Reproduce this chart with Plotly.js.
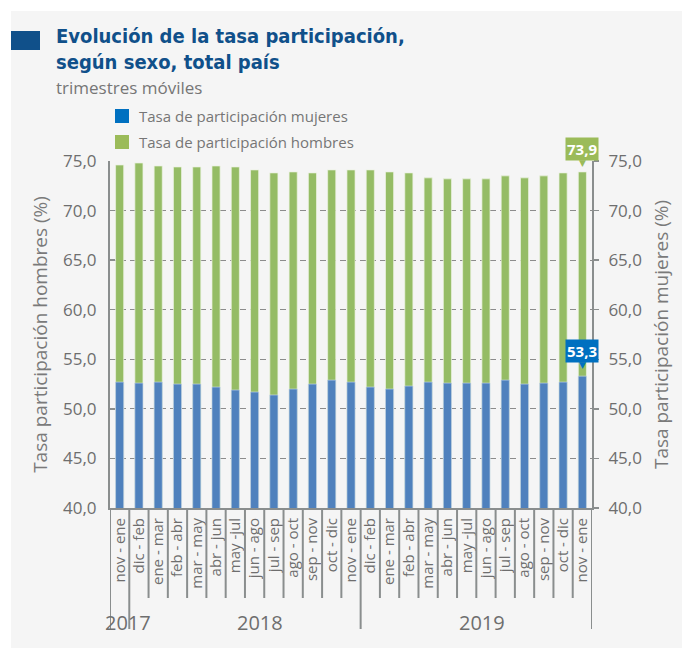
<!DOCTYPE html>
<html>
<head>
<meta charset="utf-8">
<script src="https://cdn.plot.ly/plotly-3.0.1.min.js"></script>
<style>
  html, body { margin: 0; padding: 0; background: #ffffff; }
  #chart { position: absolute; left: 11px; top: 11px; width: 671px; height: 637px; }
</style>
</head>
<body>
<div id="chart"></div>
<script>
// ---- data ----
const categories = ['nov - ene','dic - feb','ene - mar','feb - abr','mar - may','abr - jun','may -jul','jun - ago','jul - sep','ago - oct','sep - nov','oct - dic','nov - ene','dic - feb','ene - mar','feb - abr','mar - may','abr - jun','may -jul','jun - ago','jul - sep','ago - oct','sep - nov','oct - dic','nov - ene'];
const hombres = [74.6,74.8,74.5,74.4,74.4,74.5,74.4,74.1,73.8,73.9,73.8,74.1,74.1,74.1,73.9,73.8,73.3,73.2,73.2,73.2,73.5,73.3,73.5,73.8,73.9];
const mujeres = [52.7,52.6,52.7,52.5,52.5,52.2,51.9,51.7,51.4,52.0,52.5,52.9,52.7,52.2,52.0,52.3,52.7,52.6,52.6,52.6,52.9,52.5,52.6,52.7,53.3];
const years = ['2017','2018','2019'];
const yearSizes = [1, 12, 12];
const seriesNames = ['Tasa de participación mujeres', 'Tasa de participación hombres'];
const titleLines = ['Evolución de la tasa participación,', 'según sexo, total país'];
const subtitle = 'trimestres móviles';
const yTitleLeft = 'Tasa participación hombres (%)';
const yTitleRight = 'Tasa participación mujeres (%)';

// ---- helpers (image pixel -> paper coords) ----
const PL = 110, PR = 592, PT = 161, PB = 508;
const fx = x => (x - PL) / (PR - PL);
const fy = y => (PB - y) / (PB - PT);
const fmt = v => v.toFixed(1).replace('.', ',');

const idx = categories.map((_, i) => i);
const n = categories.length;
const GRAY = '#6e6e6e';
const LINE = '#8a8e8e';
const FONT = 'Open Sans, sans-serif';
const TFONT = 'Liberation Sans Narrow, DejaVu Sans Condensed, Arial Narrow, sans-serif';

const traces = [
  { type: 'bar', name: seriesNames[1], x: idx, y: hombres, yaxis: 'y', width: 0.42,
    marker: { color: '#95bc65', line: { color: 'rgba(235,242,225,0.9)', width: 0.8 } },
    showlegend: false, hoverinfo: 'y' },
  { type: 'bar', name: seriesNames[0], x: idx, y: mujeres, yaxis: 'y2', width: 0.42,
    marker: { color: '#4f81bd', line: { color: 'rgba(200,215,235,0.8)', width: 0.8 } },
    showlegend: false, hoverinfo: 'y' }
];

const shapes = [];
// title marker rectangle
shapes.push({ type: 'rect', xref: 'paper', yref: 'paper', x0: fx(11), x1: fx(40), y0: fy(50), y1: fy(31),
  fillcolor: '#10508a', line: { width: 0 } });
// legend squares
shapes.push({ type: 'rect', xref: 'paper', yref: 'paper', x0: fx(115), x1: fx(129), y0: fy(123), y1: fy(109),
  fillcolor: '#0070c0', line: { width: 0 } });
shapes.push({ type: 'rect', xref: 'paper', yref: 'paper', x0: fx(115), x1: fx(129), y0: fy(149), y1: fy(135),
  fillcolor: '#9bbb59', line: { width: 0 } });

// category separators + year separators
const yearBounds = [0];
yearSizes.forEach(s => yearBounds.push(yearBounds[yearBounds.length - 1] + s));
for (let i = 0; i <= n; i++) {
  const isYear = yearBounds.includes(i);
  shapes.push({ type: 'line', xref: 'x', yref: 'paper', x0: i - 0.5, x1: i - 0.5,
    y0: 0, y1: isYear ? fy(629) : fy(598), line: { color: LINE, width: 2 } });
}

const annotations = [];
annotations.push({ xref: 'paper', yref: 'paper', x: fx(55), y: fy(49), xanchor: 'left', yanchor: 'middle',
  align: 'left', borderpad: 0, text: '<b>' + titleLines[0] + '</b><br><b>' + titleLines[1] + '</b>', showarrow: false,
  font: { family: TFONT, size: 20, color: '#10508a' } });
annotations.push({ xref: 'paper', yref: 'paper', x: fx(55), y: fy(87), xanchor: 'left', yanchor: 'middle',
  borderpad: 0, text: subtitle, showarrow: false, font: { family: FONT, size: 17, color: '#767676' } });
// legend text
annotations.push({ xref: 'paper', yref: 'paper', x: fx(137), y: fy(116), xanchor: 'left', yanchor: 'middle',
  text: seriesNames[0], showarrow: false, font: { family: FONT, size: 15, color: '#767676' } });
annotations.push({ xref: 'paper', yref: 'paper', x: fx(137), y: fy(142), xanchor: 'left', yanchor: 'middle',
  text: seriesNames[1], showarrow: false, font: { family: FONT, size: 15, color: '#767676' } });

// year labels
const yearShift = [8, 15, 6];
years.forEach((yr, k) => {
  const c = (yearBounds[k] + yearBounds[k + 1] - 1) / 2;
  annotations.push({ xref: 'x', yref: 'paper', x: c, y: fy(622), xshift: yearShift[k], xanchor: 'center', yanchor: 'middle',
    text: yr, showarrow: false, font: { family: FONT, size: 20, color: GRAY } });
});

// callouts on last value
const last = n - 1;
annotations.push({ xref: 'x', yref: 'y', x: last, y: hombres[last], yanchor: 'bottom', yshift: 11,
  text: '<b>' + fmt(hombres[last]) + '</b>', showarrow: false, bgcolor: '#9bbb59', borderpad: 1,
  font: { family: FONT, size: 15, color: '#ffffff' } });
annotations.push({ xref: 'x', yref: 'y', x: last, y: hombres[last], yanchor: 'bottom', yshift: 2,
  text: '▼', showarrow: false, font: { family: 'DejaVu Sans', size: 9, color: '#9bbb59' } });
annotations.push({ xref: 'x', yref: 'y2', x: last, y: mujeres[last], yanchor: 'bottom', yshift: 13,
  text: '<b>' + fmt(mujeres[last]) + '</b>', showarrow: false, bgcolor: '#0070c0', borderpad: 1,
  font: { family: FONT, size: 15, color: '#ffffff' } });
annotations.push({ xref: 'x', yref: 'y2', x: last, y: mujeres[last], yanchor: 'bottom', yshift: 4,
  text: '▼', showarrow: false, font: { family: 'DejaVu Sans', size: 9, color: '#0070c0' } });

const yCommon = {
  range: [40, 75], dtick: 5, tick0: 40, tickformat: '.1f',
  tickfont: { family: FONT, size: 17, color: GRAY },
  showline: true, linecolor: LINE, linewidth: 2,
  ticklen: 5, tickcolor: LINE, tickwidth: 1.5,
  zeroline: false, fixedrange: true
};

const layout = {
  width: 671, height: 637,
  margin: { l: 99, r: 90, t: 150, b: 140, pad: 0 },
  paper_bgcolor: '#f5f5f5', plot_bgcolor: 'rgba(0,0,0,0)',
  separators: ',.',
  barmode: 'overlay',
  showlegend: false,
  font: { family: FONT, color: GRAY },
  xaxis: {
    range: [-0.5, n - 0.5], tickvals: idx, ticktext: categories, tickangle: -90,
    tickfont: { family: FONT, size: 15, color: GRAY },
    ticks: '', showline: true, linecolor: LINE, linewidth: 2, showgrid: false, zeroline: false,
    ticklabelstandoff: 2, fixedrange: true
  },
  yaxis: Object.assign({}, yCommon, {
    side: 'left', ticks: 'inside', ticklabelstandoff: 8,
    showgrid: true, gridcolor: '#8c8c8c', gridwidth: 1, griddash: '6px,4px',
    title: { text: yTitleLeft, font: { family: FONT, size: 19, color: '#7a7a7a' }, standoff: 10 }
  }),
  yaxis2: Object.assign({}, yCommon, {
    side: 'right', overlaying: 'y', ticks: 'outside', ticklabelstandoff: 6, showgrid: false,
    title: { text: yTitleRight, font: { family: FONT, size: 19, color: '#7a7a7a' }, standoff: 14 }
  }),
  shapes: shapes,
  annotations: annotations
};

Plotly.newPlot('chart', traces, layout, { displayModeBar: false, staticPlot: true });
</script>
</body>
</html>
